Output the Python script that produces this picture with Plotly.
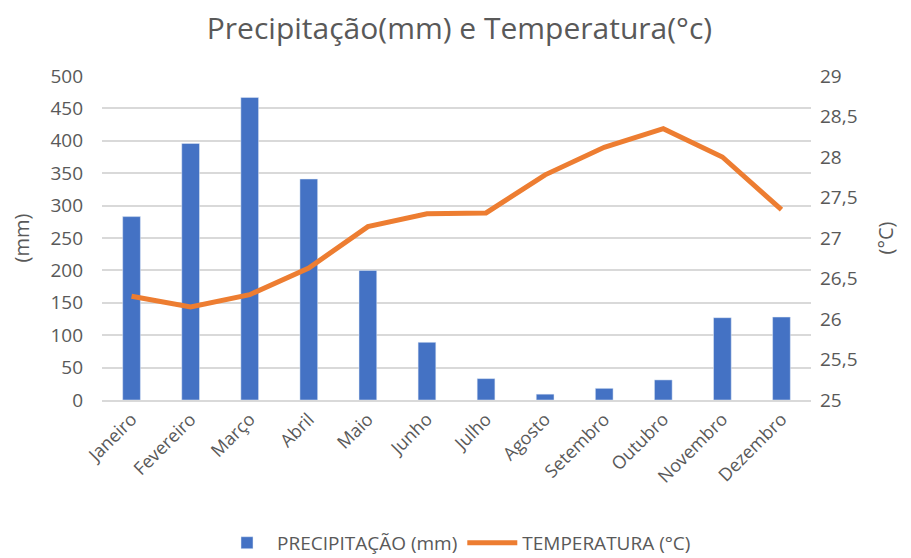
import plotly.graph_objects as go

meses = ["Janeiro", "Fevereiro", "Março", "Abril", "Maio", "Junho", "Julho",
         "Agosto", "Setembro", "Outubro", "Novembro", "Dezembro"]
precipitacao = [283, 396, 467, 341, 200, 89, 33, 9, 18, 31, 127, 128]
temperatura = [26.28, 26.15, 26.3, 26.63, 27.14, 27.3, 27.31, 27.78, 28.12, 28.35, 28.0, 27.35]

FONT = "Open Sans"
GRAY = "#595959"

fig = go.Figure()
fig.add_trace(go.Bar(x=meses, y=precipitacao, name="PRECIPITAÇÃO (mm)",
                     marker_color="#4472C4", width=0.3, yaxis="y"))
fig.add_trace(go.Scatter(x=meses, y=temperatura, name="TEMPERATURA (°C)",
                         mode="lines", line=dict(color="#ED7D31", width=5), yaxis="y2"))

fig.update_layout(
    width=903, height=550,
    margin=dict(l=94, r=100, t=68, b=158, autoexpand=False),
    paper_bgcolor="white", plot_bgcolor="white",
    separators=",.",
    font=dict(family=FONT, color=GRAY, size=17),
    title=dict(text="Precipitação(mm) e Temperatura(°c)", x=0.5, xanchor="center",
               y=0.962, yanchor="middle", font=dict(size=30, color=GRAY, family=FONT)),
    xaxis=dict(tickangle=-45, showgrid=False, showline=True, linecolor="#d9d9d9",
               linewidth=1.5, tickfont=dict(size=18, color=GRAY), ticks="",
               automargin=False),
    yaxis=dict(range=[0, 500], dtick=50, showgrid=True, gridcolor="#d9d9d9",
               gridwidth=1.5, zeroline=False, tickfont=dict(size=19, color=GRAY),
               ticklabelstandoff=18, automargin=False,
               title=dict(text="(mm)", font=dict(size=20, color=GRAY), standoff=22)),
    yaxis2=dict(range=[25, 29], dtick=0.5, overlaying="y", side="right",
                showgrid=False, zeroline=False, tickfont=dict(size=19, color=GRAY),
                ticklabelstandoff=8, automargin=False,
                title=dict(text="(°C)", font=dict(size=20, color=GRAY), standoff=22)),
    legend=dict(orientation="h", x=0.5, xanchor="center", y=-0.441, yanchor="middle",
                font=dict(size=19, color=GRAY), traceorder="normal", itemwidth=50),
    bargap=0.5,
)

fig.write_html("out.html")
